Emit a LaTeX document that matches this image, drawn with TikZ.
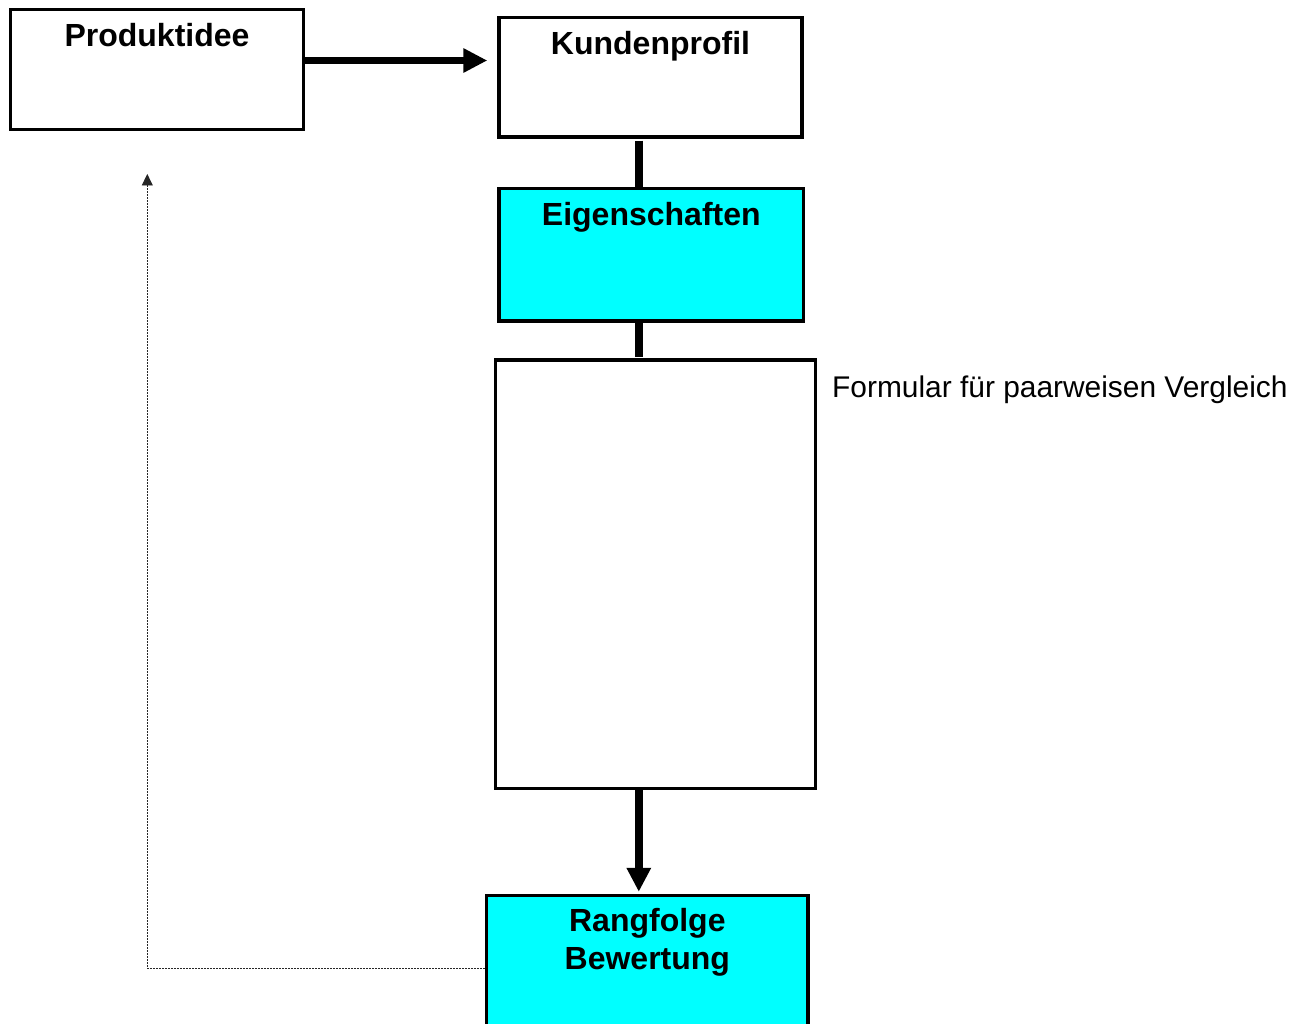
\documentclass[tikz,border=0pt]{standalone}
\usepackage{fontspec}
\setmainfont{Liberation Sans}
\usetikzlibrary{arrows.meta}
\definecolor{tuerkis}{HTML}{00FFFF}

\begin{document}
\begin{tikzpicture}[x=1pt,y=-1pt]
\tikzstyle{kasten}=[draw,line width=3.4pt,inner sep=0pt]
\tikzstyle{titel}=[anchor=base,inner sep=0pt,font=\fontsize{32}{38}\selectfont\bfseries]
\tikzstyle{steg}=[line width=7.5pt]
\tikzstyle{pfeil}=[line width=7.5pt,-{Triangle[length=24pt,width=23pt]}]
\tikzstyle{rueck}=[line width=0.9pt,black!85,dash pattern=on 2pt off 1pt,-{Triangle[length=11.5pt,width=11pt]}]
\useasboundingbox (0,0) rectangle (1301,1024);
% Kaesten
\node[kasten,minimum width=293pt,minimum height=120.4pt] (idee) at (157,69.5) {};
\node[kasten,minimum width=303pt,minimum height=119.5pt] (kunden) at (650.5,77.3) {};
\node[kasten,fill=tuerkis,minimum width=304.7pt,minimum height=132.7pt] (eigen) at (651.3,254.7) {};
\node[kasten,minimum width=319.8pt,minimum height=428.3pt] (gross) at (655.4,574.2) {};
\node[kasten,fill=tuerkis,minimum width=321.3pt,minimum height=145.6pt] (rang) at (647.35,968.3) {};
% Texte
\node[titel] (ideetext) at ([yshift=-38.5pt]idee.north) {Produktidee};
\node[titel] (kundentext) at ([yshift=-38.5pt]kunden.north) {Kundenprofil};
\node[titel] (eigentext) at ([yshift=-38.5pt]eigen.north) {Eigenschaften};
\node[titel] (rangtext) at ([yshift=-37.5pt]rang.north) {Rangfolge};
\node[titel] (bewertext) at ([yshift=-75.5pt]rang.north) {Bewertung};
\node[anchor=base west,inner sep=0pt,font=\fontsize{29.9}{36}\selectfont] (formular)
    at ([xshift=15pt,yshift=-38.7pt]gross.north east) {Formular für paarweisen Vergleich};
% Verbindungen
\coordinate (achse) at (638.8,0);
\coordinate (rueckende) at (147.3,174);
\draw[pfeil] ([yshift=9pt]idee.east) -- ([xshift=-10pt,yshift=16.8pt]kunden.west);
\draw[steg] ([yshift=-2pt]kunden.south -| achse) -- (eigen.north -| achse);
\draw[steg] (eigen.south -| achse) -- ([yshift=1.6pt]gross.north -| achse);
\draw[pfeil] (gross.south -| achse) -- ([yshift=2pt]rang.north -| achse);
\draw[rueck] (rang.west) -| (rueckende);
\end{tikzpicture}
\end{document}
